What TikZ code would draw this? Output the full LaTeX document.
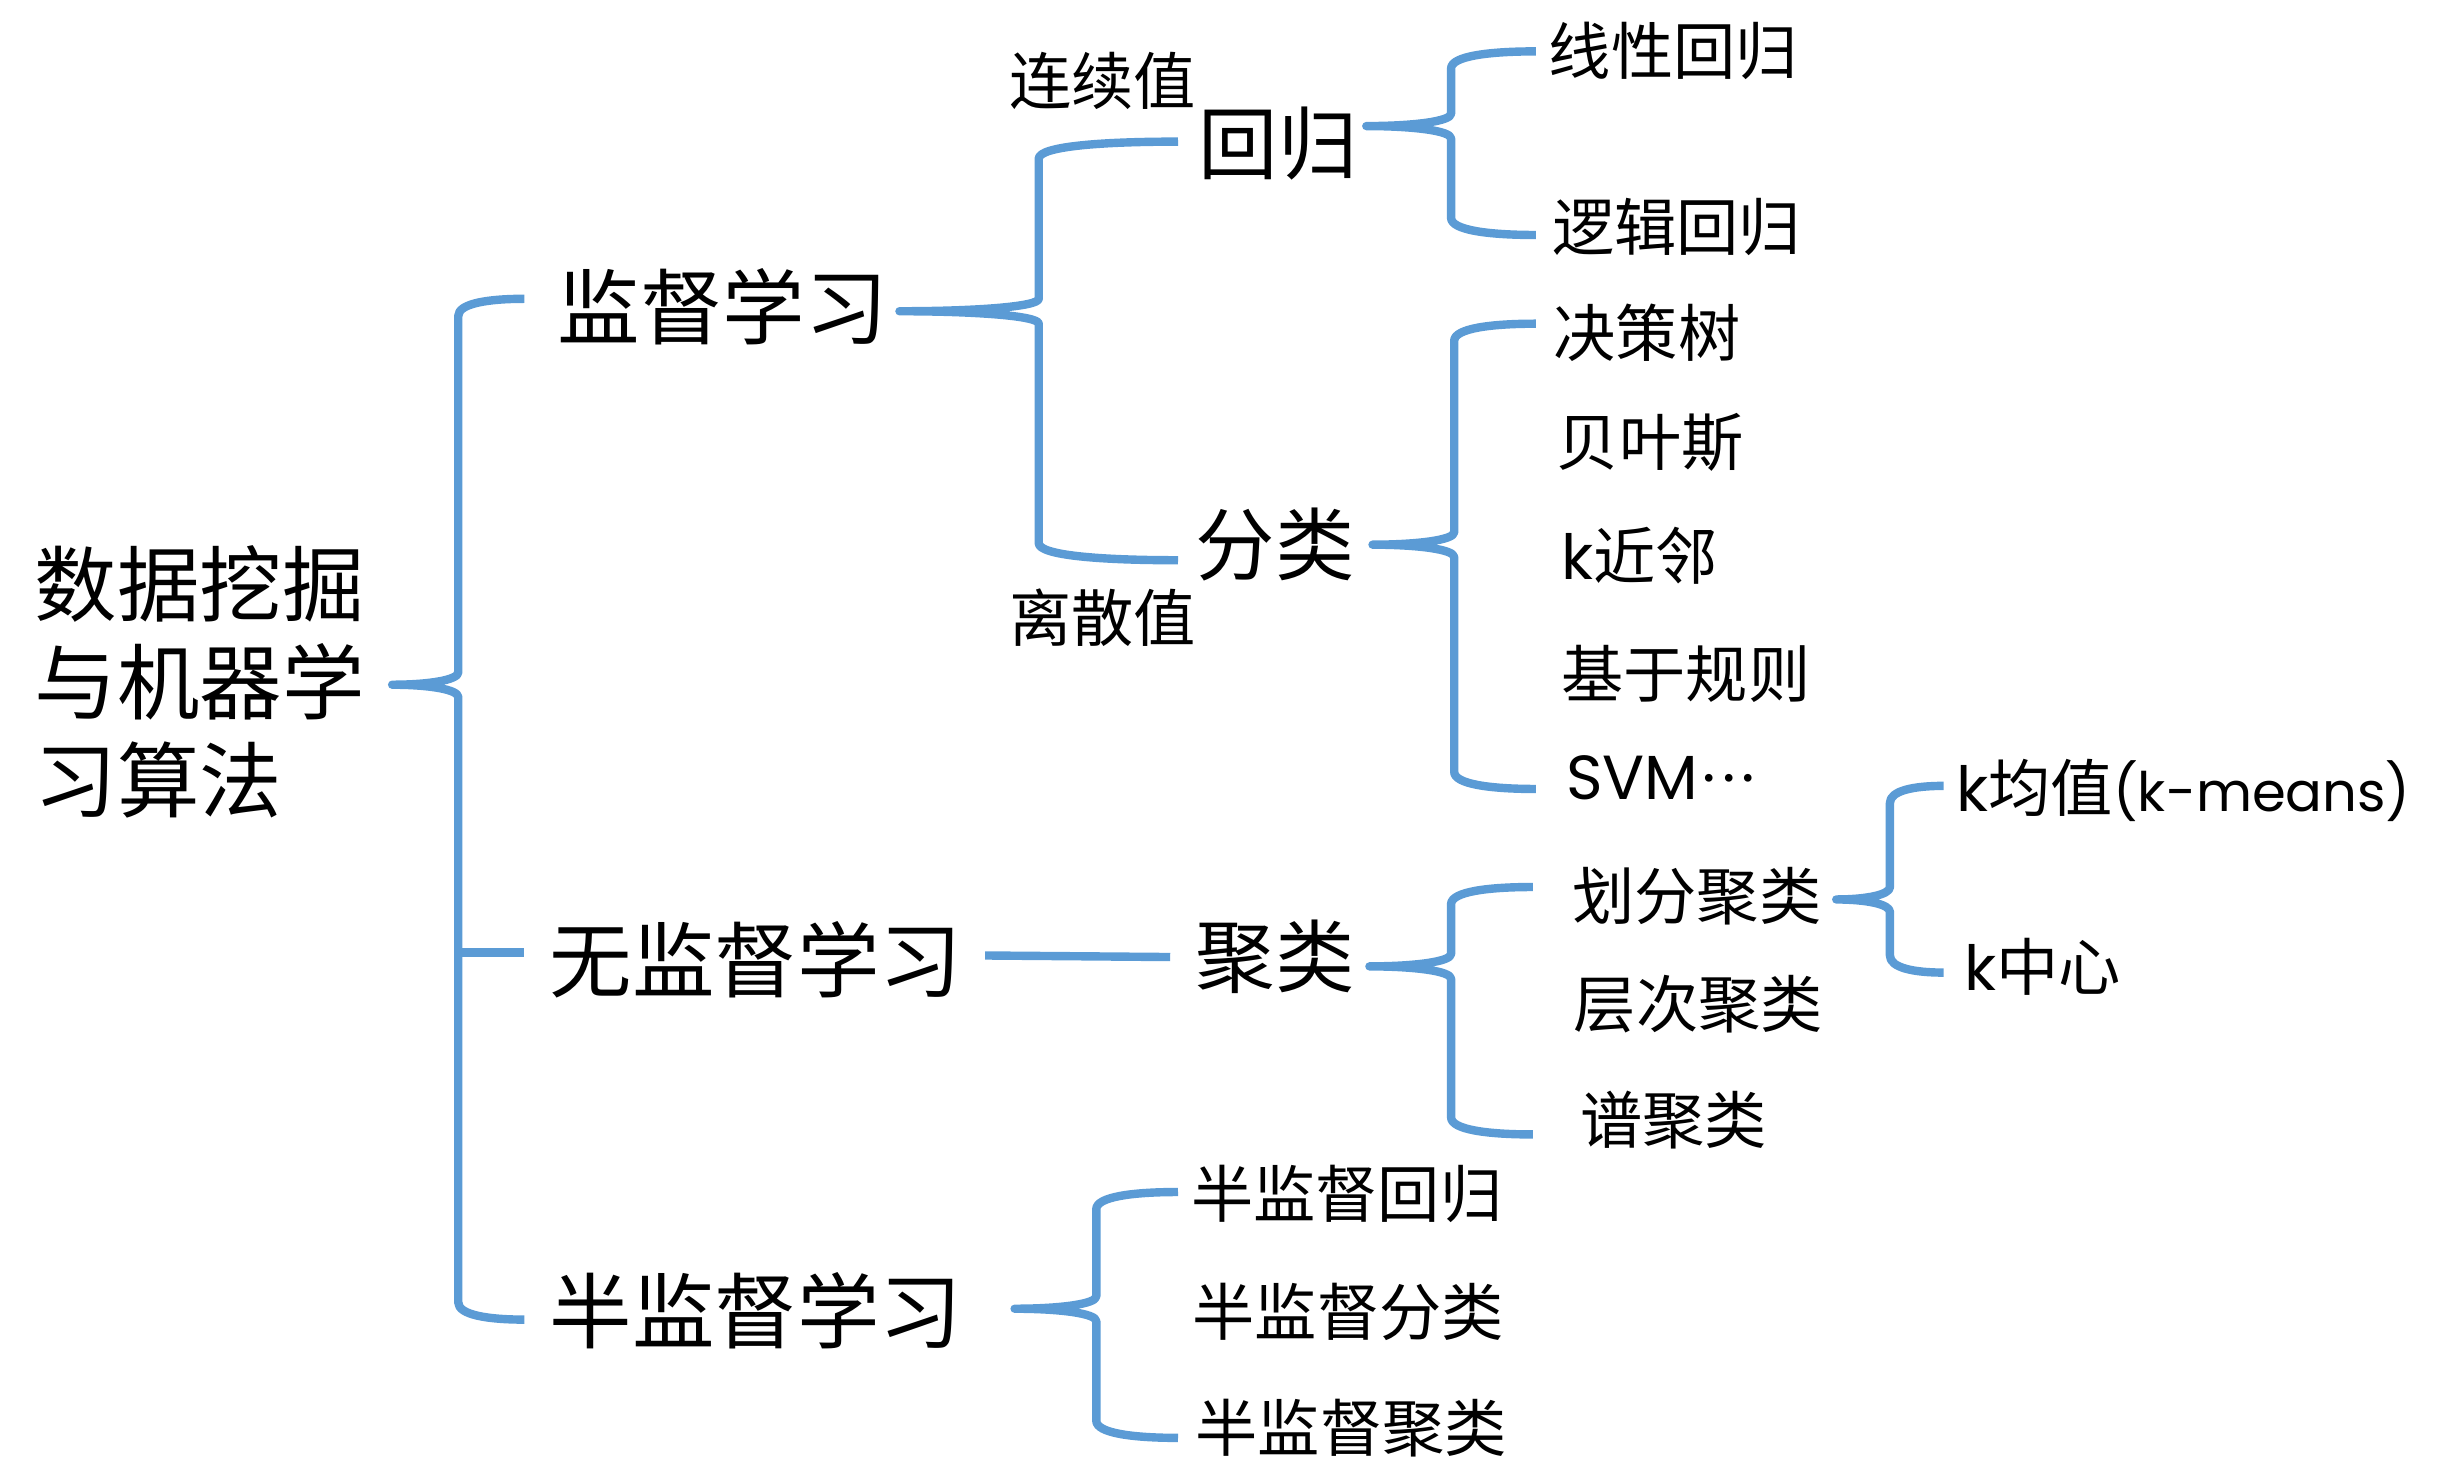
\documentclass[tikz,border=0pt]{standalone}
\usepackage{fontspec}
\setmainfont{Noto Sans CJK SC}
\newfontfamily\lat{Poppins}
\usetikzlibrary{calc}
\definecolor{braceblue}{RGB}{91,155,213}
\tikzset{
  brace/.style={draw=braceblue, line width=2.7pt, line join=round},
  big/.style={anchor=west, inner sep=0pt, font=\fontsize{26.5}{31.5}\selectfont},
  med/.style={anchor=west, inner sep=0pt, font=\fontsize{25.5}{30}\selectfont},
  small/.style={anchor=west, inner sep=0pt, font=\fontsize{20}{24}\selectfont},
}
% #1 tip, #2 top end, #3 bottom end
\newcommand\drawbrace[3]{%
  \draw[brace] let \p1=(#1), \p2=(#2), \p3=(#3), \p4=($(#1)!0.5!(#2)$) in
    (\p2) .. controls ({\x4+0.45*(\x2-\x4)},\y2) and (\x4,{\y2-1.5pt}) .. (\x4,{\y2-5.5pt})
    -- (\x4,{\y1+4pt}) .. controls (\x4,{\y1+1.5pt}) and ({\x4-0.45*(\x4-\x1)},\y1) .. (\p1)
    .. controls ({\x4-0.45*(\x4-\x1)},\y1) and (\x4,{\y1-1.5pt}) .. (\x4,{\y1-4pt})
    -- (\x4,{\y3+5.5pt}) .. controls (\x4,{\y3+1.5pt}) and ({\x4+0.45*(\x3-\x4)},\y3) .. (\p3);}
\begin{document}
\begin{tikzpicture}[x=0.5pt,y=-0.5pt]
\useasboundingbox (0,0) rectangle (1568,950);
% texts
\node[big, align=left] (root) at (22,438) {数据挖掘\\与机器学\\习算法};
\node[big] (sup) at (358,197) {监督学习};
\node[big] (uns) at (353,617) {无监督学习};
\node[big] (semi) at (353,842) {半监督学习};
\node[med] (reg) at (770,92) {回归};
\node[med] (cls) at (768,350) {分类};
\node[med] (clu) at (768,615) {聚类};
\node[small] (cont) at (648,52) {连续值};
\node[small] (disc) at (648,397) {离散值};
\node[small] (a1) at (995,33) {线性回归};
\node[small] (a2) at (997,146) {逻辑回归};
\node[small] (b1) at (998,214) {决策树};
\node[small] (b2) at (1000,284) {贝叶斯};
\node[small] (b3) at (1003,357) {{\lat k}近邻};
\node[small] (b4) at (1003,433) {基于规则};
\node[small] (b5) at (1006,500) {\lat SVM\kern1.5pt·\kern2pt·\kern2pt·};
\node[small] (d1) at (1010,576) {划分聚类};
\node[small] (d2) at (1011,645) {层次聚类};
\node[small] (d3) at (1015,720) {谱聚类};
\node[small] (e1) at (1257,508) {{\lat k}均值{\lat\fontsize{17.5}{21}\selectfont (k-means)}};
\node[small] (e2) at (1262,621) {{\lat k}中心};
\node[small] (s1) at (765,767) {半监督回归};
\node[small] (s2) at (766,843) {半监督分类};
\node[small] (s3) at (768,918) {半监督聚类};
% brace points
\coordinate (t0) at (252,440); \coordinate (t0a) at (337,192); \coordinate (t0b) at (337,848);
\coordinate (t0m) at (294.5,612); \coordinate (t0c) at (337,612);
\coordinate (t1) at (578,200); \coordinate (t1a) at (757,91); \coordinate (t1b) at (757,360);
\coordinate (t2) at (878,81); \coordinate (t2a) at (987,33); \coordinate (t2b) at (987,151);
\coordinate (t3) at (882,350); \coordinate (t3a) at (987,208); \coordinate (t3b) at (987,507);
\coordinate (t4) at (880,621); \coordinate (t4a) at (985,570); \coordinate (t4b) at (985,729);
\coordinate (t5) at (1180,578); \coordinate (t5a) at (1249,505); \coordinate (t5b) at (1249,625);
\coordinate (t6) at (652,841); \coordinate (t6a) at (757,766); \coordinate (t6b) at (757,924);
\coordinate (l1) at (633,614); \coordinate (l2) at (752,615);
% braces
\drawbrace{t0}{t0a}{t0b}
\draw[brace] (t0m) -- (t0c);
\drawbrace{t1}{t1a}{t1b}
\drawbrace{t2}{t2a}{t2b}
\drawbrace{t3}{t3a}{t3b}
\drawbrace{t4}{t4a}{t4b}
\drawbrace{t5}{t5a}{t5b}
\drawbrace{t6}{t6a}{t6b}
\draw[brace] (l1) -- (l2);
\end{tikzpicture}
\end{document}
